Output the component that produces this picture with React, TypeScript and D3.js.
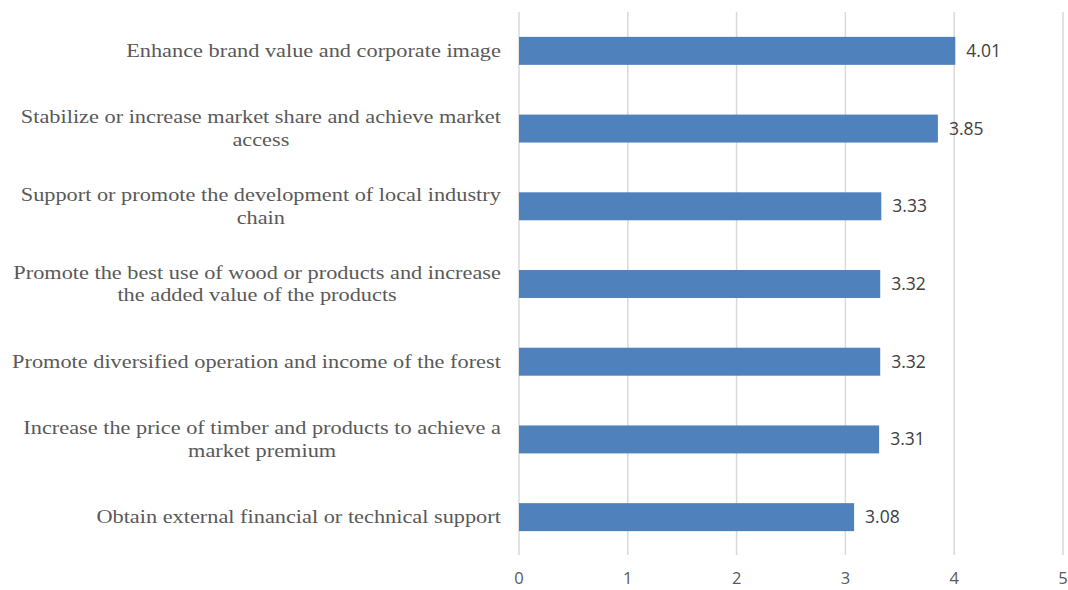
import React from "react";
import * as d3 from "d3";

const categories: string[][] = [
  ["Enhance brand value and corporate image"],
  ["Stabilize or increase market share and achieve market", "access"],
  ["Support or promote the development of local industry", "chain"],
  ["Promote the best use of wood or products and increase", "the added value of the products"],
  ["Promote diversified operation and income of the forest"],
  ["Increase the price of timber and products to achieve a", "market premium"],
  ["Obtain external financial or technical support"],
];
const values: number[] = [4.01, 3.85, 3.33, 3.32, 3.32, 3.31, 3.08];
const ticks: number[] = [0, 1, 2, 3, 4, 5];

const LABEL_FONT = "18px 'Liberation Serif', 'Times New Roman', serif";
let ctx: CanvasRenderingContext2D | null = null;
function measure(s: string): number {
  if (!ctx) ctx = document.createElement("canvas").getContext("2d");
  if (!ctx) return s.length * 8;
  ctx.font = LABEL_FONT;
  return ctx.measureText(s).width;
}

export default function App() {
  const W = 1068, H = 590;
  const x = d3.scaleLinear().domain([0, 5]).range([519, 1063]);
  const y = d3.scaleBand<number>().domain(d3.range(values.length)).range([12, 556]).paddingInner(0.64).paddingOuter(0.32);
  const bw = y.bandwidth();
  return (
    <svg width={W} height={H} style={{ position: "absolute", left: 0, top: 0, background: "#fff" }}>
      {ticks.map((t) => (
        <g key={t}>
          <line x1={x(t)} x2={x(t)} y1={12} y2={555} stroke="#d9d9d9" strokeWidth={1.5} />
          <text x={x(t)} y={584} textAnchor="middle" fontFamily="'Open Sans', sans-serif" fontSize={16.5} fill="#595959">{t}</text>
        </g>
      ))}
      {values.map((v, i) => {
        const yc = (y(i) as number) + bw / 2;
        const lines = categories[i];
        const lh = 23;
        const maxW = Math.max(...lines.map(measure));
        return (
          <g key={i}>
            <rect x={x(0)} y={y(i)} width={x(v) - x(0)} height={bw} fill="#4F81BD" />
            <text x={x(v) + 11} y={yc + 6} fontFamily="'Open Sans', sans-serif" fontSize={17.5} fill="#404040">{v.toFixed(2)}</text>
            <g transform={`translate(501,${yc}) scale(1.24,1)`}>
              {lines.map((l, j) => (
                <text key={j} x={-maxW / 2} y={6 + (j - (lines.length - 1) / 2) * lh} textAnchor="middle" fontFamily="'Liberation Serif', 'Times New Roman', serif" fontSize={18} fill="#595959">{l}</text>
              ))}
            </g>
          </g>
        );
      })}
    </svg>
  );
}
